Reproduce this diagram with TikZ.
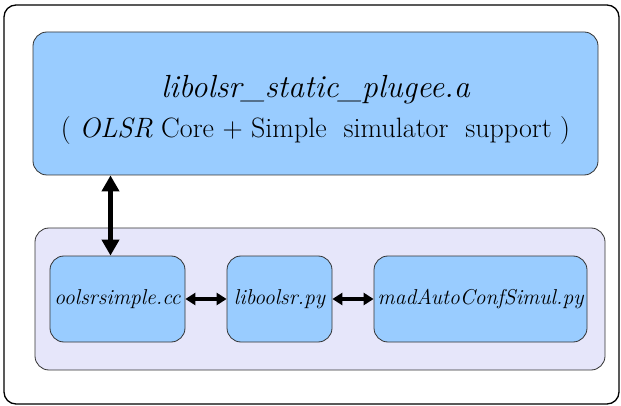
\documentclass[tikz,border=0pt]{standalone}
\usepackage{fontspec}
\usetikzlibrary{arrows.meta,positioning}

\definecolor{libblue}{RGB}{153,204,255}
\definecolor{simlav}{RGB}{230,230,250}

\tikzset{
  libbox/.style={draw=black!80, fill=libblue, rounded corners=14pt, line width=0.8pt},
  modbox/.style={libbox, minimum height=86pt, inner sep=1pt, font=\fontsize{21.5}{24}\selectfont\itshape},
  biarrow/.style={{Triangle[length=10pt,width=12pt]}-{Triangle[length=10pt,width=12pt]}, line width=3.5pt}
}

\begin{document}
\begin{tikzpicture}[x=1pt,y=-1pt]
\useasboundingbox (0,0) rectangle (621,406);

% outer frame
\draw[line width=1.3pt, rounded corners=12pt] (4,5) rectangle (619,404);

% static library
\node[libbox, minimum width=565pt, minimum height=143pt] at (315.5,103.5) (lib) {};
\node[align=center] at (315.5,110) (libtext)
  {{\fontsize{32}{38}\selectfont\itshape libolsr\_static\_plugee.a}\\[11pt]
   {\fontsize{28}{36}\selectfont ( \textit{OLSR} Core + Simple\ \ simulator\ \ support )}};

% simulator part
\node[draw=black!80, fill=simlav, rounded corners=14pt, line width=0.8pt,
      minimum width=570pt, minimum height=142pt] at (320,299) (sim) {};

\node[modbox, minimum width=135pt] at (117.5,299) (oolsr) {oolsrsimple.cc};
\node[modbox, minimum width=105pt] at (279.5,299) (pylib) {liboolsr.py};
\node[modbox, minimum width=213pt] at (480.5,299) (mad) {madAutoConfSimul.py};

\coordinate (down) at ([xshift=-7pt]oolsr.north);
\draw[{Triangle[length=16pt,width=17pt]}-{Triangle[length=16pt,width=17pt]}, line width=5pt]
  (down |- lib.south) -- (down);

\draw[biarrow] (oolsr) -- (pylib);
\draw[biarrow] (pylib) -- (mad);

\end{tikzpicture}
\end{document}
